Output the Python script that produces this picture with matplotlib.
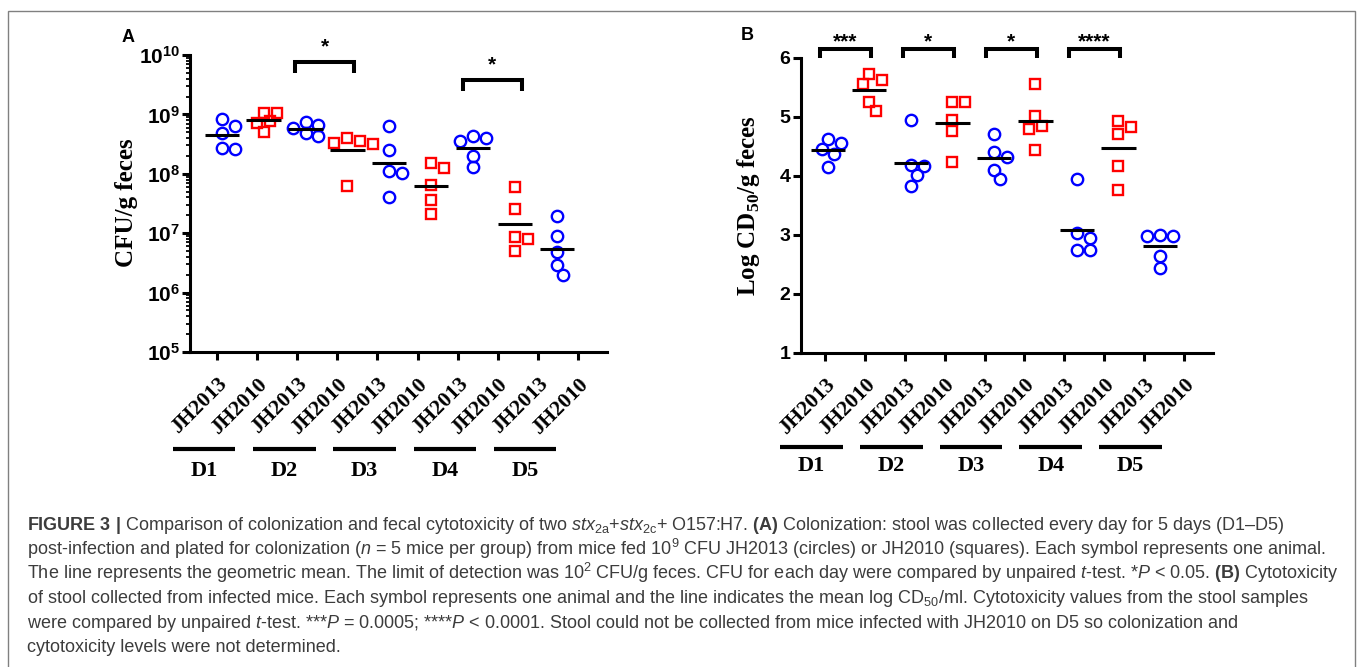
import numpy as np
import matplotlib
matplotlib.use('Agg')
import matplotlib.pyplot as plt
from matplotlib.patches import Rectangle
from matplotlib.ticker import FixedLocator, LogLocator, NullFormatter, FixedFormatter

plt.rcParams['mathtext.fontset'] = 'custom'
plt.rcParams['mathtext.rm'] = 'Liberation Sans'
plt.rcParams['mathtext.it'] = 'Liberation Sans:italic'
plt.rcParams['mathtext.bf'] = 'Liberation Sans:bold'
plt.rcParams['mathtext.sf'] = 'Liberation Serif:bold'

# ---------------- data ----------------
days = ['D1', 'D2', 'D3', 'D4', 'D5']
strains = ['JH2013', 'JH2010']

# Panel A: CFU / g feces (one value per mouse)
cfu_jh2013 = [
    [8.3e8, 6.3e8, 4.9e8, 2.7e8, 2.6e8],
    [7.4e8, 6.6e8, 5.9e8, 4.9e8, 4.4e8],
    [6.5e8, 2.5e8, 1.1e8, 1.05e8, 4.0e7],
    [4.3e8, 4.0e8, 3.5e8, 2.0e8, 1.3e8],
    [1.95e7, 8.9e6, 4.8e6, 2.9e6, 1.95e6],
]
cfu_jh2010 = [
    [1.07e9, 1.05e9, 7.6e8, 7.1e8, 5.1e8],
    [4.0e8, 3.5e8, 3.3e8, 3.2e8, 6.3e7],
    [1.5e8, 1.25e8, 6.6e7, 3.6e7, 2.1e7],
    [6.0e7, 2.6e7, 8.5e6, 8.0e6, 5.1e6],
    [],
]
# Panel B: Log CD50 / g feces
cd50_jh2013 = [
    [4.63, 4.55, 4.46, 4.37, 4.14],
    [4.94, 4.18, 4.16, 4.01, 3.82],
    [4.71, 4.41, 4.31, 4.10, 3.95],
    [3.94, 3.03, 2.94, 2.74, 2.74],
    [3.00, 2.97, 2.97, 2.64, 2.43],
]
cd50_jh2010 = [
    [5.73, 5.62, 5.56, 5.25, 5.10],
    [5.25, 5.25, 4.95, 4.76, 4.24],
    [5.55, 5.01, 4.84, 4.79, 4.44],
    [4.93, 4.83, 4.70, 4.17, 3.75],
    [],
]
# significance (day index, label)
sig_A = [(1, '*'), (3, '*')]
sig_B = [(0, '***'), (1, '*'), (2, '*'), (3, '****')]

caption_lines = [
    r"$\bf{FIGURE\ 3}$ $\bf{|}$ Comparison of colonization and fecal cytotoxicity of two $\it{stx}_{\rm 2a}$+$\it{stx}_{\rm 2c}$+ O157:H7. $\bf{(A)}$ Colonization: stool was collected every day for 5 days (D1–D5)",
    r"post-infection and plated for colonization ($n$ = 5 mice per group) from mice fed 10$^{\rm 9}$ CFU JH2013 (circles) or JH2010 (squares). Each symbol represents one animal.",
    r"The line represents the geometric mean. The limit of detection was 10$^{\rm 2}$ CFU/g feces. CFU for each day were compared by unpaired $t$-test. *$P$ < 0.05. $\bf{(B)}$ Cytotoxicity",
    r"of stool collected from infected mice. Each symbol represents one animal and the line indicates the mean log CD$_{\rm 50}$/ml. Cytotoxicity values from the stool samples",
    r"were compared by unpaired $t$-test. ***$P$ = 0.0005; ****$P$ < 0.0001. Stool could not be collected from mice infected with JH2010 on D5 so colonization and",
    r"cytotoxicity levels were not determined.",
]

# ---------------- style ----------------
BLUE = '#0000ff'
RED = '#ff0000'
SERIF = 'Liberation Serif'
SANS = 'Liberation Sans'
W, H = 1357, 667

fig = plt.figure(figsize=(W / 100, H / 100), dpi=100)


def px_axes(left, top, right, bottom):
    return fig.add_axes([left / W, 1 - bottom / H, (right - left) / W, (bottom - top) / H])


axA = px_axes(190, 55, 607, 352)
axB = px_axes(801, 57.7, 1213, 352.7)


def swarm(vals, dx, dy, minf=0.8):
    vals = np.asarray(vals, float)
    offs = np.zeros(len(vals))
    placed = []
    steps = [0, 0.5, -0.5, 1.0, -1.0, 1.5, -1.5, 2.0, -2.0]
    for idx in np.argsort(-vals):
        c = 0.0
        for s in steps:
            c = s * dx
            if all(((c - o) / dx) ** 2 + ((vals[idx] - v) / dy) ** 2 >= minf ** 2 for o, v in placed):
                break
        offs[idx] = c
        placed.append((c, vals[idx]))
    return offs


def draw_group(ax, x, vals, marker, color, logscale, dx, dy):
    if len(vals) == 0:
        return
    v = np.asarray(vals, float)
    sv = np.log10(v) if logscale else v
    offs = swarm(sv, dx, dy)
    ms = 8.2 if marker == 'o' else 7.4
    ax.plot(x + offs, v, ls='none', marker=marker, mfc='none', mec=color,
            ms=ms, mew=1.7, clip_on=False, zorder=3)
    m = 10 ** sv.mean() if logscale else sv.mean()
    ax.plot([x - 0.41, x + 0.41], [m, m], color='black', lw=2.2,
            solid_capstyle='butt', zorder=4, clip_on=False)


def style_axis(ax, xlim, tick_scale, tick_shift, lab_size):
    ax.set_xlim(*xlim)
    for s in ['top', 'right']:
        ax.spines[s].set_visible(False)
    for s in ['left', 'bottom']:
        ax.spines[s].set_linewidth(2.2)
    ticks = tick_shift + tick_scale * np.arange(10)
    ax.set_xticks(ticks)
    ax.set_xticklabels(strains * 5, rotation=45, ha='right', va='top',
                       rotation_mode='anchor', fontfamily=SERIF,
                       fontweight='bold', fontsize=15.5)
    ax.tick_params(axis='x', length=6, width=2.2, pad=10)
    ax.tick_params(axis='y', which='major', length=5.5, width=2.2, pad=1.5,
                   labelsize=lab_size)
    for lbl in ax.get_yticklabels():
        lbl.set_fontfamily(SANS)
        lbl.set_fontweight('bold')
    return ticks


# Panel A
axA.set_yscale('log')
axA.set_ylim(1e5, 1e10)
ticksA = style_axis(axA, (-0.757, 9.196), 0.957, -0.112, 15)
axA.yaxis.set_major_locator(FixedLocator([1e5, 1e6, 1e7, 1e8, 1e9, 1e10]))
axA.yaxis.set_major_formatter(FixedFormatter(
    [r'$\mathbf{10^{%d}}$' % e for e in range(5, 11)]))
axA.yaxis.set_minor_locator(LogLocator(base=10, subs=np.arange(2, 10), numticks=20))
axA.yaxis.set_minor_formatter(NullFormatter())
axA.tick_params(axis='y', which='minor', length=3, width=1.3)
axA.tick_params(axis='y', which='major', labelsize=15)

for d in range(5):
    draw_group(axA, 2 * d, cfu_jh2013[d], 'o', BLUE, True, 0.31, 0.218)
    draw_group(axA, 2 * d + 1, cfu_jh2010[d], 's', RED, True, 0.31, 0.218)

axA.set_ylabel('CFU/g feces', fontfamily=SERIF, fontweight='bold', fontsize=18)
axA.yaxis.set_label_coords(-0.125, 0.502)

# Panel B
axB.set_ylim(1, 6)
ticksB = style_axis(axB, (-0.65, 9.277), 0.961, -0.072, 14)
axB.set_yticks([1, 2, 3, 4, 5, 6])
axB.set_yticklabels(['1', '2', '3', '4', '5', '6'], fontfamily=SANS,
                    fontweight='bold', fontsize=14)
axB.tick_params(axis='y', pad=2)
for d in range(5):
    draw_group(axB, 2 * d, cd50_jh2013[d], 'o', BLUE, False, 0.31, 0.22)
    draw_group(axB, 2 * d + 1, cd50_jh2010[d], 's', RED, False, 0.31, 0.22)

axB.set_ylabel(r'Log CD$_{\mathsf{50}}$/g feces', fontfamily=SERIF,
               fontweight='bold', fontsize=18)
axB.yaxis.set_label_coords(-0.094, 0.5)

# significance brackets
def bracket(ax, x0, x1, ytop, ybot, label, star_off):
    ax.plot([x0, x0, x1, x1], [ybot, ytop, ytop, ybot], color='black', lw=2.9,
            solid_joinstyle='miter', solid_capstyle='butt', clip_on=False, zorder=5)
    ax.annotate(label, xy=((x0 + x1) / 2, ytop), xytext=(0, star_off),
                textcoords='offset points', ha='center', va='baseline',
                fontfamily=SANS, fontweight='bold', fontsize=15,
                annotation_clip=False)


bracket_top_A = [7.7e9, 3.8e9]
for (d, lab), top in zip(sig_A, bracket_top_A):
    bracket(axA, 2 * d - 0.24, 2 * d + 1.16, top, top / 10 ** 0.19, lab, 7)
for d, lab in sig_B:
    bracket(axB, 2 * d - 0.2, 2 * d + 1.04, 6.14, 5.99, lab, 1.5)

# day group lines and labels
def day_groups(ax, ticks, y_line, y_text, l_off, r_off):
    tr = ax.get_xaxis_transform()
    for d, name in enumerate(days):
        x0 = ticks[2 * d] - l_off
        x1 = ticks[2 * d + 1] - r_off
        ax.plot([x0, x1], [y_line, y_line], color='black', lw=3, transform=tr,
                clip_on=False, solid_capstyle='butt')
        ax.text((x0 + x1) / 2, y_text, name, transform=tr, ha='center',
                va='center', fontfamily=SERIF, fontweight='bold', fontsize=16)


day_groups(axA, ticksA, -0.327, -0.40, 1.05, 0.52)
day_groups(axB, ticksB, -0.32, -0.385, 1.08, 0.53)

# panel letters
fig.text(128 / W, 1 - 37 / H, 'A', ha='center', va='center', fontfamily=SANS,
         fontweight='bold', fontsize=13)
fig.text(747 / W, 1 - 35 / H, 'B', ha='center', va='center', fontfamily=SANS,
         fontweight='bold', fontsize=13)

# frame
fig.add_artist(Rectangle((8 / W, -0.05), (1355 - 8) / W, 1.05 - 11 / H,
                         transform=fig.transFigure, fill=False,
                         edgecolor='#808080', lw=1.0))

# caption
cap_y = [530.5, 554.8, 579.1, 603.4, 627.7, 652.0]
renderer = fig.canvas.get_renderer()
probe = fig.text(27 / W, 0.5, caption_lines[2], fontfamily=SANS, fontsize=10)
wpx = probe.get_window_extent(renderer).width
probe.remove()
cap_size = 10 * (1340 - 27) / wpx
for line, y in zip(caption_lines, cap_y):
    fig.text(27 / W, 1 - y / H, line, ha='left', va='baseline',
             fontfamily=SANS, fontsize=cap_size, color='#3c3c3c')

fig.savefig('out.png', dpi=100)
